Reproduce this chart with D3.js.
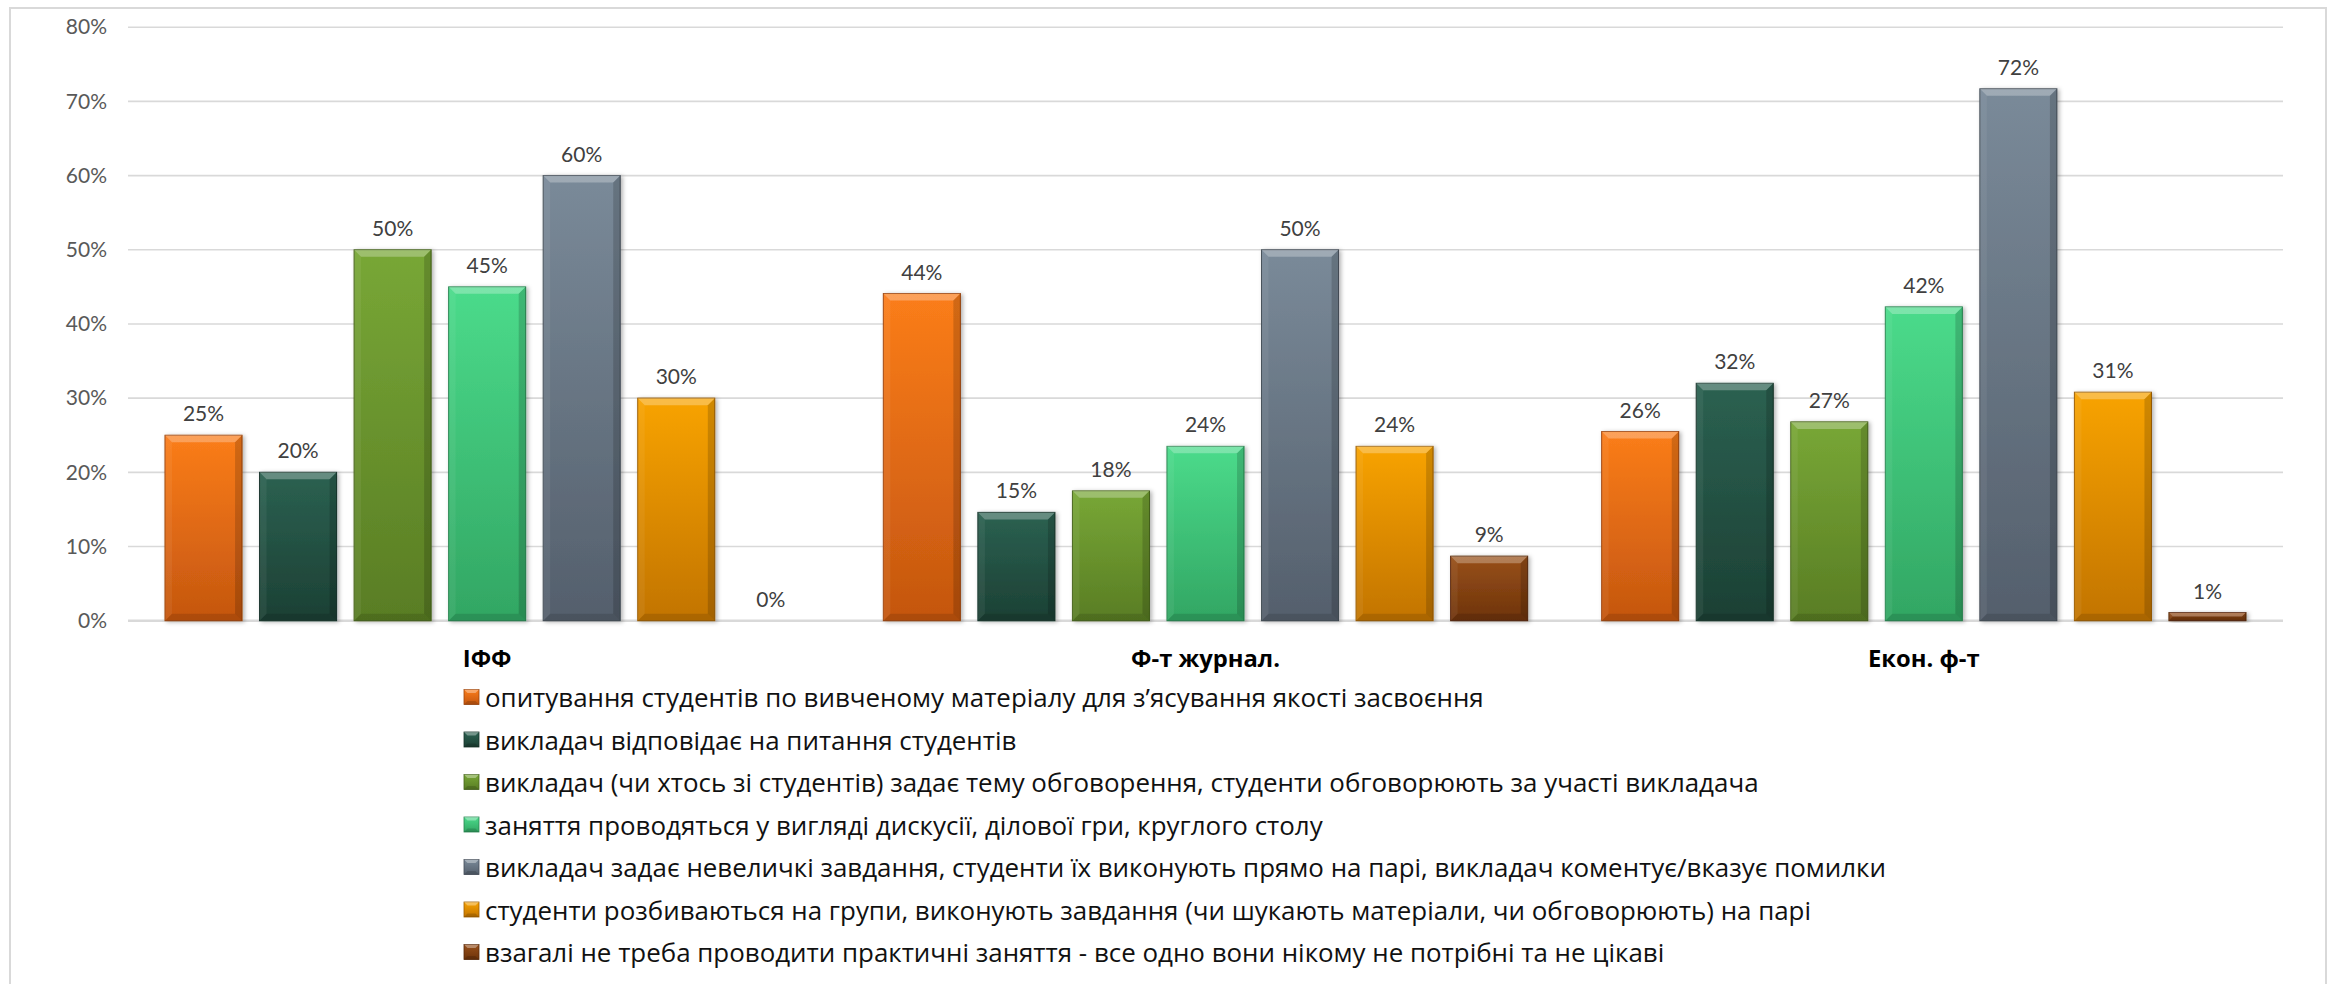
<!DOCTYPE html>
<html>
<head>
<meta charset="utf-8">
<script src="https://cdn.jsdelivr.net/npm/d3@7"></script>
<style>
  html, body { margin: 0; padding: 0; background: #ffffff; }
  svg { display: block; }
</style>
</head>
<body>
<svg id="chart" width="2338" height="984"></svg>
<script>
// ---------------- DATA ----------------
const categories = ["ІФФ", "Ф-т журнал.", "Екон. ф-т"];

const seriesNames = [
  "опитування студентів по вивченому матеріалу для з’ясування якості засвоєння",
  "викладач відповідає на питання студентів",
  "викладач (чи хтось зі студентів) задає тему обговорення, студенти обговорюють за участі викладача",
  "заняття проводяться у вигляді дискусії, ділової гри, круглого столу",
  "викладач задає невеличкі завдання, студенти їх виконують прямо на парі, викладач коментує/вказує помилки",
  "студенти розбиваються на групи, виконують завдання (чи шукають матеріали, чи обговорюють) на парі",
  "взагалі не треба проводити практичні заняття - все одно вони нікому не потрібні та не цікаві"
];

// values in % per category (ІФФ, Ф-т журнал., Екон. ф-т)
const seriesSurvey    = [25, 44.1, 25.5];
const seriesAnswers   = [20, 14.6, 32.0];
const seriesTopic     = [50, 17.5, 26.8];
const seriesDiscuss   = [45, 23.5, 42.3];
const seriesTasks     = [60, 50.0, 71.7];
const seriesGroups    = [30, 23.5, 30.8];
const seriesNoNeed    = [0, 8.7, 1.1];

const yTicks = [0, 10, 20, 30, 40, 50, 60, 70, 80];
const yTickLabels = ["0%", "10%", "20%", "30%", "40%", "50%", "60%", "70%", "80%"];

// colours: [top, bottom]
const seriesColors = [
  ["#fb7d1a", "#c4560f"],
  ["#2b6151", "#1c4034"],
  ["#78a736", "#597d24"],
  ["#4bdb8b", "#32a663"],
  ["#7a8a99", "#545f6c"],
  ["#f8a300", "#c27400"],
  ["#98501a", "#6e330a"]
];

const allSeries = [seriesSurvey, seriesAnswers, seriesTopic, seriesDiscuss, seriesTasks, seriesGroups, seriesNoNeed];

// ---------------- LAYOUT ----------------
const svg = d3.select("#chart");
const plot = { left: 128, right: 2283, top: 27.2, bottom: 620.7 };

const defs = svg.append("defs");
seriesColors.forEach((c, i) => {
  const g = defs.append("linearGradient").attr("id", "grad" + i)
    .attr("x1", 0).attr("y1", 0).attr("x2", 0).attr("y2", 1);
  g.append("stop").attr("offset", "0%").attr("stop-color", c[0]);
  g.append("stop").attr("offset", "100%").attr("stop-color", c[1]);
});
const f = defs.append("filter").attr("id", "shadow")
  .attr("x", "-20%").attr("y", "-20%").attr("width", "140%").attr("height", "140%");
f.append("feDropShadow").attr("dx", 2).attr("dy", 1).attr("stdDeviation", 2)
  .attr("flood-color", "#000").attr("flood-opacity", 0.3);

// chart border
svg.append("rect").attr("x", 10).attr("y", 8).attr("width", 2316).attr("height", 990)
  .attr("fill", "none").attr("stroke", "#d9d9d9").attr("stroke-width", 2);

const y = d3.scaleLinear().domain([0, 80]).range([plot.bottom, plot.top]);
const x0 = d3.scaleBand().domain(categories).range([plot.left, plot.right]).padding(0);
const outer = 37;
const x1 = d3.scaleBand().domain(d3.range(seriesNames.length))
  .range([outer, x0.bandwidth() - outer]).paddingInner(0.185).paddingOuter(0);

// gridlines
svg.append("g").selectAll("line").data(yTicks).join("line")
  .attr("x1", plot.left).attr("x2", plot.right)
  .attr("y1", d => y(d)).attr("y2", d => y(d))
  .attr("stroke", "#d9d9d9").attr("stroke-width", d => d === 0 ? 2.5 : 1.6);

// y axis labels via d3 axis
const yAxis = d3.axisLeft(y).tickValues(yTicks).tickSize(0).tickPadding(0)
  .tickFormat((d, i) => yTickLabels[i]);
const yg = svg.append("g").attr("transform", `translate(${107},0)`).call(yAxis);
yg.select(".domain").remove();
yg.selectAll("text").attr("font-family", "Lato, 'Open Sans', sans-serif")
  .attr("font-size", 21).attr("fill", "#595959");

// bars
const bars = [];
categories.forEach((cat, ci) => {
  allSeries.forEach((s, si) => {
    bars.push({ cat, ci, si, v: s[ci] });
  });
});

const barG = svg.append("g");
bars.forEach(d => {
  const x = x0(d.cat) + x1(d.si);
  const w = x1.bandwidth();
  const yt = y(d.v);
  const h = y(0) - yt;
  const g = barG.append("g");
  if (h > 0) {
    g.append("rect").attr("x", x).attr("y", yt).attr("width", w).attr("height", h)
      .attr("fill", `url(#grad${d.si})`).attr("filter", "url(#shadow)")
      .attr("stroke", d3.color(seriesColors[d.si][1]).darker(0.6)).attr("stroke-width", 1);
    const b = Math.min(7, h / 2);
    g.append("polygon")
      .attr("points", [[x, yt], [x + w, yt], [x + w - b, yt + b], [x + b, yt + b]].map(p => p.join(",")).join(" "))
      .attr("fill", "#ffffff").attr("opacity", 0.28);
    g.append("polygon")
      .attr("points", [[x, yt], [x + b, yt + b], [x + b, yt + h - b], [x, yt + h]].map(p => p.join(",")).join(" "))
      .attr("fill", "#ffffff").attr("opacity", 0.06);
    g.append("polygon")
      .attr("points", [[x + w, yt], [x + w - b, yt + b], [x + w - b, yt + h - b], [x + w, yt + h]].map(p => p.join(",")).join(" "))
      .attr("fill", "#000000").attr("opacity", 0.16);
    g.append("polygon")
      .attr("points", [[x, yt + h], [x + b, yt + h - b], [x + w - b, yt + h - b], [x + w, yt + h]].map(p => p.join(",")).join(" "))
      .attr("fill", "#000000").attr("opacity", 0.12);
  }
  g.append("text").attr("x", x + w / 2).attr("y", yt - 14)
    .attr("text-anchor", "middle")
    .attr("font-family", "Lato, 'Open Sans', sans-serif").attr("font-size", 21)
    .attr("fill", "#404040")
    .text(Math.round(d.v) + "%");
});

// category labels
const catTargetWidth = 149;
const catG = svg.append("g");
const catTexts = catG.selectAll("text").data(categories).join("text")
  .attr("font-family", "'Open Sans', sans-serif").attr("font-weight", "bold")
  .attr("font-size", 24).attr("fill", "#000").attr("text-anchor", "middle")
  .attr("x", 0).attr("y", 0)
  .text(d => d);
const refCat = catTexts.filter(d => d === "Ф-т журнал.").node().getComputedTextLength();
const kCat = catTargetWidth / refCat;
catTexts.attr("transform", d => `translate(${x0(d) + x0.bandwidth() / 2},${667}) scale(${kCat},1)`);

// legend
const legendX = 464, legendTextX = 485, legendY0 = 697, legendStep = 42.5, sq = 15;
const legendTargetWidth = 999;
const lg = svg.append("g");
const items = lg.selectAll("g").data(seriesNames).join("g")
  .attr("transform", (d, i) => `translate(0,${legendY0 + i * legendStep})`);
items.each(function (d, i) {
  const g = d3.select(this);
  g.append("rect").attr("x", legendX).attr("y", -sq / 2).attr("width", sq).attr("height", sq)
    .attr("fill", `url(#grad${i})`).attr("stroke", d3.color(seriesColors[i][1]).darker(0.6)).attr("stroke-width", 0.8);
  const b = 3.5;
  const x = legendX, yt = -sq / 2, w = sq, h = sq;
  g.append("polygon")
    .attr("points", [[x, yt], [x + w, yt], [x + w - b, yt + b], [x + b, yt + b]].map(p => p.join(",")).join(" "))
    .attr("fill", "#fff").attr("opacity", 0.35);
  g.append("polygon")
    .attr("points", [[x, yt + h], [x + b, yt + h - b], [x + w - b, yt + h - b], [x + w, yt + h]].map(p => p.join(",")).join(" "))
    .attr("fill", "#000").attr("opacity", 0.15);
});
const legTexts = items.append("text")
  .attr("font-family", "'Open Sans', sans-serif").attr("font-size", 25).attr("fill", "#111")
  .attr("x", 0).attr("y", 10)
  .text(d => d);
const refLeg = legTexts.filter((d, i) => i === 0).node().getComputedTextLength();
const kLeg = legendTargetWidth / refLeg;
legTexts.attr("transform", `translate(${legendTextX},0) scale(${kLeg},1)`);
</script>
</body>
</html>
